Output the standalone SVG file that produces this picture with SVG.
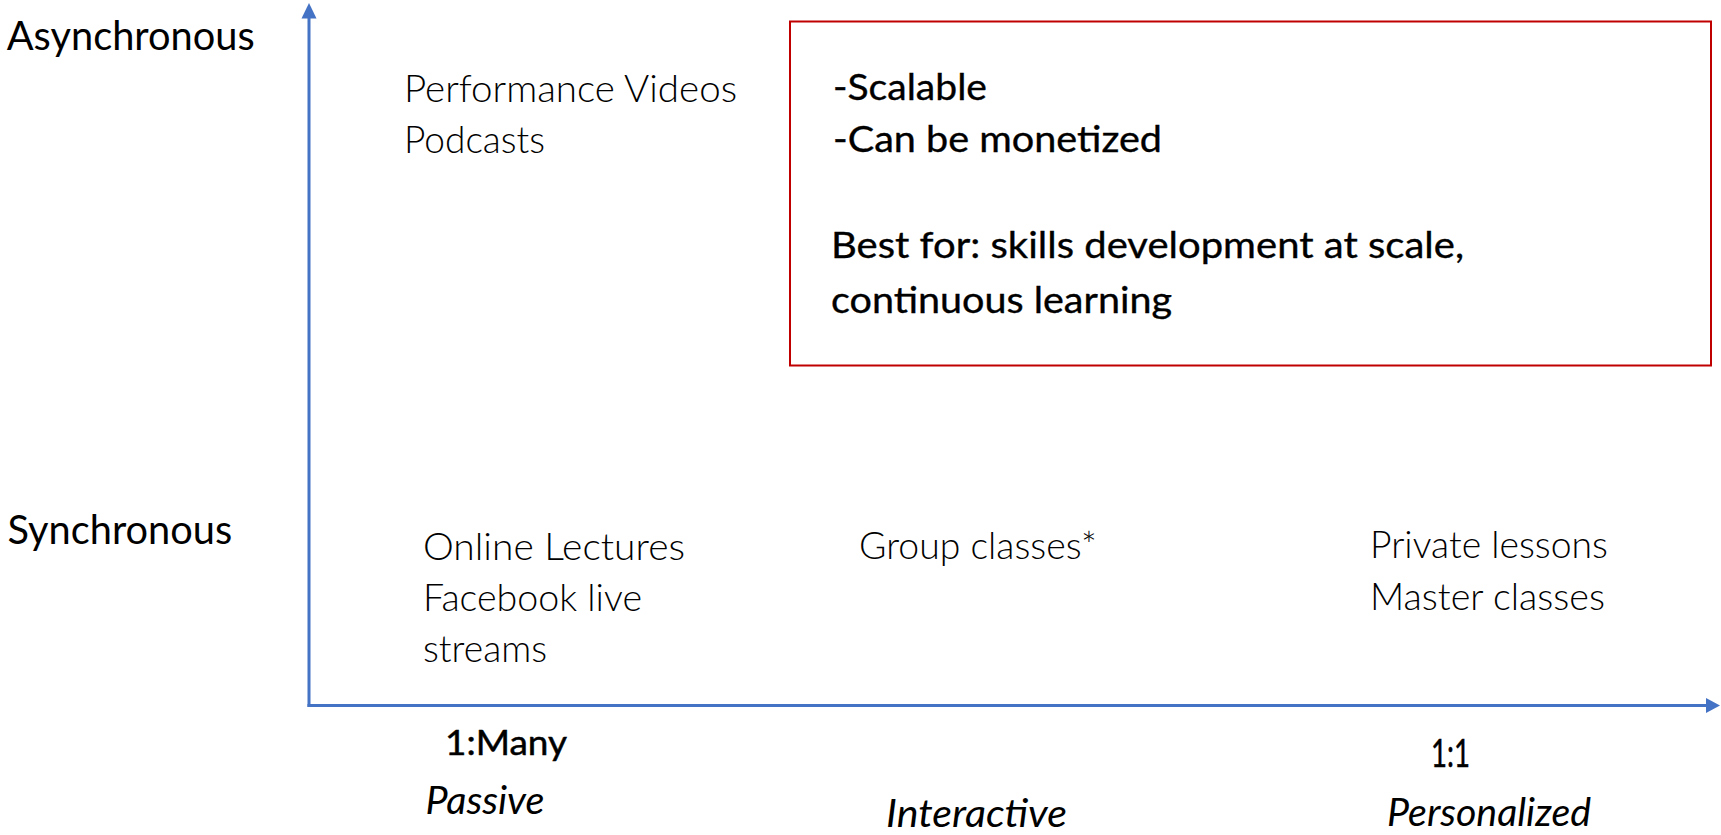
<svg xmlns="http://www.w3.org/2000/svg" width="1721" height="835" viewBox="0 0 1721 835">
<style>
text { font-family: Lato, "Open Sans", "Liberation Sans", sans-serif; fill: #000; }
.book { font-size: 38px; font-weight: 300; }
.med { font-size: 40px; font-weight: 400; }
.box { font-size: 36px; font-weight: 400; stroke: #000; stroke-width: 0.35px; }
.tick { font-size: 35px; font-weight: 400; stroke: #000; stroke-width: 0.5px; }
.ital { font-size: 38px; font-style: italic; font-weight: 400; }
.axis { stroke: #4472C4; stroke-width: 3; fill: none; }
.head { fill: #4472C4; }
</style>
<rect width="1721" height="835" fill="#fff"/>
<g id="connectors">
  <line class="axis" x1="309" y1="707" x2="309" y2="17"/>
  <polygon class="head" points="309,3 301.5,18.5 316.5,18.5"/>
  <line class="axis" x1="307.5" y1="705.5" x2="1707" y2="705.5"/>
  <polygon class="head" points="1720,705.5 1706,698 1706,713"/>
</g>
<g id="label-async"><text class="med" x="6.7" y="50" textLength="248" lengthAdjust="spacingAndGlyphs">Asynchronous</text></g>
<g id="label-sync"><text class="med" x="7.6" y="543.5" textLength="224.5" lengthAdjust="spacingAndGlyphs">Synchronous</text></g>
<g id="node-async-passive">
  <text class="book" x="404" y="101.7" textLength="333" lengthAdjust="spacingAndGlyphs">Performance Videos</text>
  <text class="book" x="404" y="153.3" textLength="141" lengthAdjust="spacingAndGlyphs">Podcasts</text>
</g>
<g id="node-box">
  <rect x="790" y="21.5" width="921" height="344" fill="none" stroke="#C00000" stroke-width="2"/>
  <text class="box" x="833" y="100" textLength="154" lengthAdjust="spacingAndGlyphs">-Scalable</text>
  <text class="box" x="833" y="151.7" textLength="329" lengthAdjust="spacingAndGlyphs">-Can be monetized</text>
  <text class="box" x="831" y="258.3" textLength="633" lengthAdjust="spacingAndGlyphs">Best for: skills development at scale,</text>
  <text class="box" x="831" y="312.7" textLength="341" lengthAdjust="spacingAndGlyphs">continuous learning</text>
</g>
<g id="node-sync-passive">
  <text class="book" x="423" y="559.5" textLength="262" lengthAdjust="spacingAndGlyphs">Online Lectures</text>
  <text class="book" x="423" y="611" textLength="219" lengthAdjust="spacingAndGlyphs">Facebook live</text>
  <text class="book" x="423" y="662" textLength="124" lengthAdjust="spacingAndGlyphs">streams</text>
</g>
<g id="node-sync-interactive">
  <text class="book" x="859" y="558.5" textLength="238" lengthAdjust="spacingAndGlyphs">Group classes*</text>
</g>
<g id="node-sync-personal">
  <text class="book" x="1370" y="558.3" textLength="238" lengthAdjust="spacingAndGlyphs">Private lessons</text>
  <text class="book" x="1370" y="610" textLength="235" lengthAdjust="spacingAndGlyphs">Master classes</text>
</g>
<g id="label-many">
  <text class="tick" x="445" y="754.5" textLength="122" lengthAdjust="spacingAndGlyphs">1:Many</text>
  <text class="ital" x="425.5" y="813.5" textLength="119" lengthAdjust="spacingAndGlyphs">Passive</text>
</g>
<g id="label-interactive">
  <text class="ital" x="886" y="826.5" textLength="181" lengthAdjust="spacingAndGlyphs">Interactive</text>
</g>
<g id="label-one">
  <text class="tick" x="1431" y="767" textLength="39" lengthAdjust="spacingAndGlyphs" style="font-size:38px">1:1</text>
  <text class="ital" x="1387" y="826" textLength="204" lengthAdjust="spacingAndGlyphs">Personalized</text>
</g>
</svg>
